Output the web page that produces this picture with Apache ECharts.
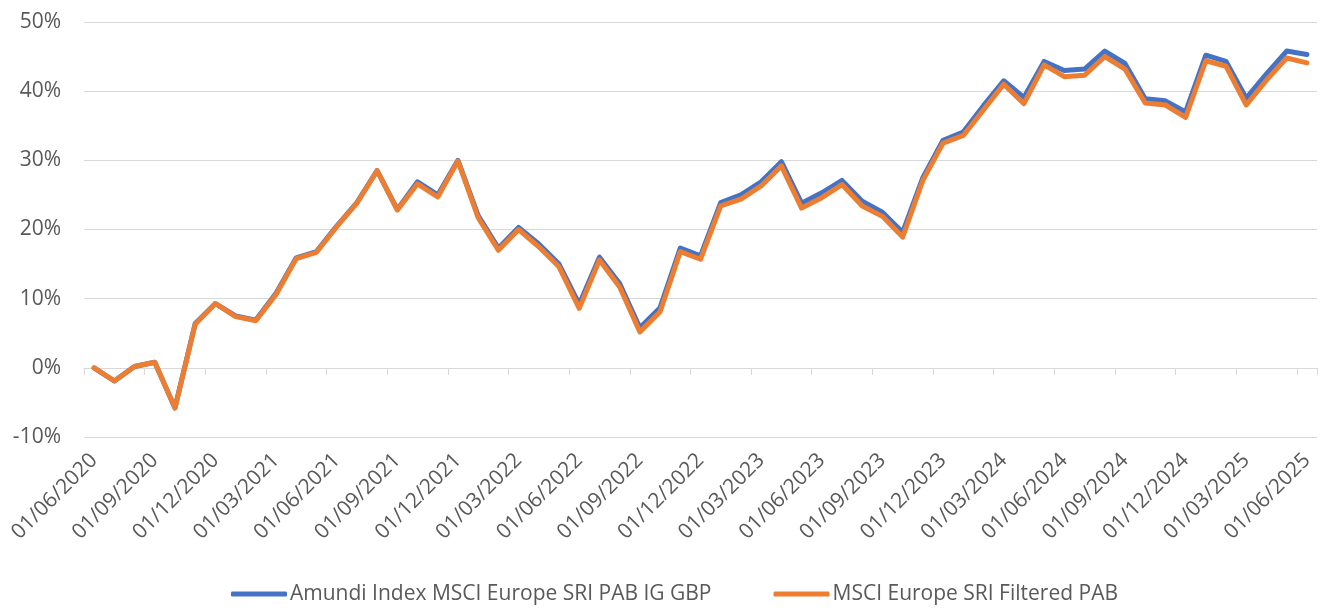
<!DOCTYPE html>
<html>
<head>
<meta charset="utf-8">
<script src="https://cdn.jsdelivr.net/npm/echarts@6/dist/echarts.min.js"></script>
<style>
html,body{margin:0;padding:0;background:#fff;}
#chart{width:1322px;height:608px;}
</style>
</head>
<body>
<div id="chart"></div>
<script>
var categories = [
"01/06/2020","01/07/2020","01/08/2020","01/09/2020","01/10/2020","01/11/2020","01/12/2020",
"01/01/2021","01/02/2021","01/03/2021","01/04/2021","01/05/2021","01/06/2021","01/07/2021","01/08/2021","01/09/2021","01/10/2021","01/11/2021","01/12/2021",
"01/01/2022","01/02/2022","01/03/2022","01/04/2022","01/05/2022","01/06/2022","01/07/2022","01/08/2022","01/09/2022","01/10/2022","01/11/2022","01/12/2022",
"01/01/2023","01/02/2023","01/03/2023","01/04/2023","01/05/2023","01/06/2023","01/07/2023","01/08/2023","01/09/2023","01/10/2023","01/11/2023","01/12/2023",
"01/01/2024","01/02/2024","01/03/2024","01/04/2024","01/05/2024","01/06/2024","01/07/2024","01/08/2024","01/09/2024","01/10/2024","01/11/2024","01/12/2024",
"01/01/2025","01/02/2025","01/03/2025","01/04/2025","01/05/2025","01/06/2025"
];
var fundName = "Amundi Index MSCI Europe SRI PAB IG GBP";
var indexName = "MSCI Europe SRI Filtered PAB";
var fundValues = [
0.0,-1.9,0.2,0.8,-5.8,6.4,9.3,
7.5,6.9,10.8,15.9,16.8,20.5,23.9,28.5,22.9,26.9,25.0,30.0,
22.0,17.3,20.3,17.9,15.0,9.2,16.0,12.2,5.8,8.7,17.3,16.2,
23.9,25.0,26.9,29.8,23.8,25.3,27.1,24.1,22.5,19.6,27.5,32.9,
34.1,37.9,41.5,39.1,44.3,43.0,43.2,45.8,44.0,38.9,38.6,37.0,
45.2,44.3,39.0,42.5,45.8,45.3
];
var indexValues = [
0.0,-1.9,0.2,0.8,-5.8,6.3,9.3,
7.4,6.8,10.6,15.8,16.7,20.4,23.8,28.5,22.8,26.6,24.7,29.9,
21.7,17.0,20.0,17.5,14.6,8.6,15.6,11.7,5.2,8.1,16.8,15.7,
23.4,24.4,26.3,29.2,23.1,24.6,26.5,23.4,21.9,18.9,27.1,32.5,
33.6,37.3,41.0,38.2,43.8,42.1,42.3,45.0,43.2,38.3,38.0,36.2,
44.4,43.6,38.0,41.6,44.8,44.1
];
var yMin = -10, yMax = 50, yStep = 10;

var font = "'Open Sans', 'Noto Sans', sans-serif";
var chart = echarts.init(document.getElementById('chart'), null, {renderer:'canvas'});
chart.setOption({
  animation: false,
  backgroundColor: '#ffffff',
  grid: {left: 84, right: 5, top: 22, bottom: 171, containLabel: false},
  legend: {
    top: 582,
    left: 231,
    padding: 0,
    itemWidth: 56,
    itemHeight: 5,
    itemGap: 62,
    icon: 'roundRect',
    textStyle: {color: '#595959', fontSize: 21, lineHeight: 24, fontFamily: font, padding: [0,0,0,-2]},
    data: [fundName, indexName]
  },
  xAxis: [
    {
      type: 'category',
      data: categories,
      boundaryGap: true,
      position: 'bottom',
      axisLine: {show: false, onZero: false},
      axisTick: {show: false},
      axisLabel: {
        interval: 2,
        rotate: 45,
        margin: 20,
        color: '#595959',
        fontSize: 21,
        fontFamily: font
      },
      splitLine: {show: false}
    },
    {
      type: 'category',
      data: categories,
      boundaryGap: true,
      position: 'bottom',
      axisLine: {show: true, onZero: true, lineStyle: {color: '#D9D9D9', width: 1}},
      axisTick: {show: true, interval: 2, length: 7, lineStyle: {color: '#D9D9D9', width: 1}},
      axisLabel: {show: false},
      splitLine: {show: false}
    }
  ],
  yAxis: {
    type: 'value',
    min: yMin,
    max: yMax,
    interval: yStep,
    axisLine: {show: false},
    axisTick: {show: false},
    axisLabel: {
      formatter: '{value}%',
      color: '#595959',
      fontSize: 21,
      fontFamily: font,
      margin: 23
    },
    splitLine: {show: true, lineStyle: {color: '#D9D9D9', width: 1}}
  },
  series: [
    {
      name: fundName,
      type: 'line',
      xAxisIndex: 0,
      data: fundValues,
      symbol: 'none',
      smooth: false,
      lineStyle: {color: '#4472C4', width: 5, cap: 'round', join: 'round'},
      itemStyle: {color: '#4472C4'}
    },
    {
      name: indexName,
      type: 'line',
      xAxisIndex: 0,
      data: indexValues,
      symbol: 'none',
      smooth: false,
      lineStyle: {color: '#ED7D31', width: 5, cap: 'round', join: 'round'},
      itemStyle: {color: '#ED7D31'}
    }
  ]
});
</script>
</body>
</html>
